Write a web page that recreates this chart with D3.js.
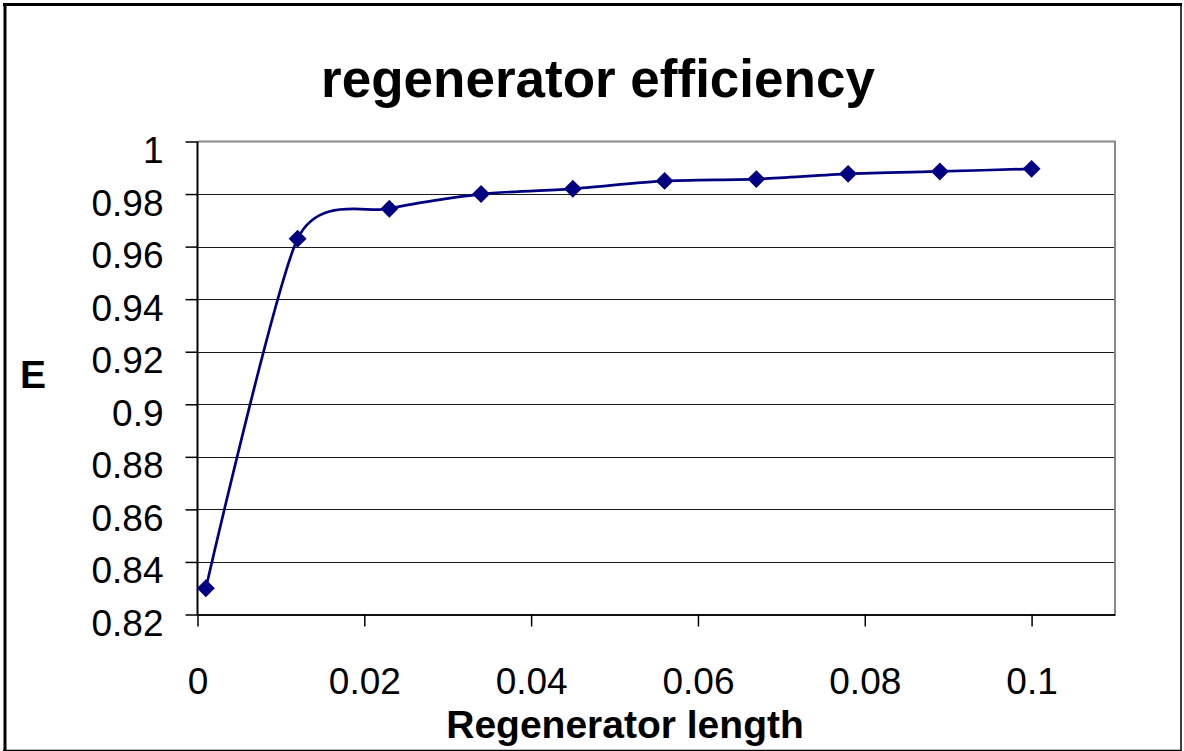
<!DOCTYPE html>
<html lang="en">
<head>
<meta charset="utf-8">
<title>regenerator efficiency</title>
<script src="https://d3js.org/d3.v7.min.js"></script>
<style>
  body { margin: 0; background: #fff; }
  text { font-family: "Liberation Sans", Arial, sans-serif; }
</style>
</head>
<body>
<script>
// values
var lengths = [0.001, 0.012, 0.023, 0.034, 0.045, 0.056, 0.067, 0.078, 0.089, 0.1];
var efficiency = [0.83, 0.963, 0.9744, 0.98, 0.982, 0.985, 0.9857, 0.9877, 0.9886, 0.9896];

var xTicks = [0, 0.02, 0.04, 0.06, 0.08, 0.1];
var xTickLabels = ["0", "0.02", "0.04", "0.06", "0.08", "0.1"];
var yTicks = [0.82, 0.84, 0.86, 0.88, 0.9, 0.92, 0.94, 0.96, 0.98, 1];
var yTickLabels = ["0.82", "0.84", "0.86", "0.88", "0.9", "0.92", "0.94", "0.96", "0.98", "1"];

var width = 1184, height = 751;
var plot = { left: 197.5, top: 141.5, right: 1115, bottom: 614.5 };

var svg = d3.select("body").append("svg")
    .attr("width", width)
    .attr("height", height);

svg.append("rect")
    .attr("width", width)
    .attr("height", height)
    .attr("fill", "#fff");

// outer frame (heavier on top / left)
svg.append("path")
    .attr("d", "M3,4.5H1182")
    .attr("stroke", "#000").attr("stroke-width", 3);
svg.append("path")
    .attr("d", "M5,3V751")
    .attr("stroke", "#000").attr("stroke-width", 3);
svg.append("path")
    .attr("d", "M1181,3V750.5H3")
    .attr("fill", "none")
    .attr("stroke", "#000").attr("stroke-width", 1.5);

var x = d3.scaleLinear().domain([0, 0.11]).range([plot.left, plot.right]);
var y = d3.scaleLinear().domain([0.82, 1]).range([plot.bottom, plot.top]);

// gridlines
svg.append("g")
    .selectAll("line")
    .data(yTicks.filter(function(d) { return d > 0.82 && d < 1; }))
    .enter().append("line")
    .attr("x1", plot.left).attr("x2", plot.right)
    .attr("y1", function(d) { return Math.round(y(d)) + 0.5; })
    .attr("y2", function(d) { return Math.round(y(d)) + 0.5; })
    .attr("stroke", "#1a1a1a")
    .attr("stroke-width", 1.2);

// plot frame: grey top and right
svg.append("path")
    .attr("d", "M" + plot.left + "," + plot.top + "H" + plot.right + "V" + plot.bottom)
    .attr("fill", "none")
    .attr("stroke", "#888")
    .attr("stroke-width", 2);

// y axis
var yAxis = svg.append("g")
    .attr("transform", "translate(" + plot.left + ",0)")
    .call(d3.axisLeft(y)
        .tickValues(yTicks)
        .tickSize(12)
        .tickPadding(22)
        .tickFormat(function(d, i) { return yTickLabels[i]; }));

// x axis
var xAxis = svg.append("g")
    .attr("transform", "translate(0," + plot.bottom + ")")
    .call(d3.axisBottom(x)
        .tickValues(xTicks)
        .tickSize(12)
        .tickSizeOuter(0)
        .tickFormat(function(d, i) { return xTickLabels[i]; }));

yAxis.select(".domain").attr("stroke", "#000").attr("stroke-width", 2)
    .attr("d", "M0," + (plot.bottom + 1) + "V" + plot.top);
xAxis.select(".domain").attr("stroke", "#111").attr("stroke-width", 2);
svg.selectAll(".tick line").attr("stroke", "#000").attr("stroke-width", 1.5);

yAxis.selectAll("text")
    .attr("font-size", 37)
    .attr("font-family", "Liberation Sans, Arial, sans-serif")
    .attr("fill", "#000")
    .attr("dy", 21);

xAxis.selectAll("text")
    .attr("font-size", 37)
    .attr("font-family", "Liberation Sans, Arial, sans-serif")
    .attr("fill", "#000")
    .attr("y", 0)
    .attr("dy", 79);

// smoothed series line (excel-like smoothing, little overshoot)
var line = d3.line()
    .x(function(d) { return x(d[0]); })
    .y(function(d) { return y(d[1]); })
    .curve(d3.curveCardinal.tension(0.3));

var points = d3.zip(lengths, efficiency);

svg.append("path")
    .datum(points)
    .attr("d", line)
    .attr("fill", "none")
    .attr("stroke", "#000080")
    .attr("stroke-width", 2.7);

svg.append("g")
    .selectAll("path")
    .data(points)
    .enter().append("path")
    .attr("d", d3.symbol().type(d3.symbolSquare).size(160))
    .attr("transform", function(d) {
        return "translate(" + x(d[0]) + "," + y(d[1]) + ") rotate(45)";
    })
    .attr("fill", "#000080");

// titles
svg.append("text")
    .attr("x", 598)
    .attr("y", 97)
    .attr("text-anchor", "middle")
    .attr("font-size", 53)
    .attr("font-weight", "bold")
    .text("regenerator efficiency");

svg.append("text")
    .attr("x", 20)
    .attr("y", 388)
    .attr("font-size", 39)
    .attr("font-weight", "bold")
    .text("E");

svg.append("text")
    .attr("x", 625)
    .attr("y", 738)
    .attr("text-anchor", "middle")
    .attr("font-size", 39)
    .attr("font-weight", "bold")
    .text("Regenerator length");
</script>
</body>
</html>
